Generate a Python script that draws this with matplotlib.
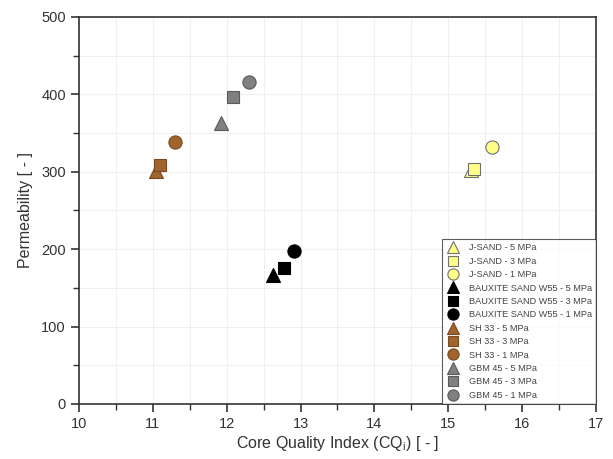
import matplotlib
matplotlib.use("Agg")
import matplotlib.pyplot as plt
from matplotlib.ticker import MultipleLocator

plt.rcParams['font.family'] = ['Liberation Sans', 'DejaVu Sans']
plt.rcParams['mathtext.fontset'] = 'custom'
plt.rcParams['mathtext.rm'] = 'Liberation Sans'
plt.rcParams['mathtext.it'] = 'Liberation Sans:italic'

# data: (CQi, permeability) for 5, 3, 1 MPa
pressures = ['5 MPa', '3 MPa', '1 MPa']
markers = ['^', 's', 'o']

materials = ['J-SAND', 'BAUXITE SAND W55', 'SH 33', 'GBM 45']
colors = ['#FFFF88', '#000000', '#A0642D', '#808080']
edges = ['#707070', '#000000', '#7a4a20', '#5a5a5a']

jsand_x = [15.31, 15.35, 15.60]
jsand_y = [302, 303, 332]
bauxite_x = [12.63, 12.78, 12.91]
bauxite_y = [167, 175, 197]
sh33_x = [11.04, 11.10, 11.30]
sh33_y = [301, 309, 339]
gbm_x = [11.92, 12.09, 12.30]
gbm_y = [363, 397, 416]

xs = [jsand_x, bauxite_x, sh33_x, gbm_x]
ys = [jsand_y, bauxite_y, sh33_y, gbm_y]

fig = plt.figure(figsize=(6.13, 4.59), dpi=100)
ax = fig.add_axes([0.129, 0.12, 0.843, 0.843])

for name, c, ec, x, y in zip(materials, colors, edges, xs, ys):
    for p, m, xi, yi in zip(pressures, markers, x, y):
        ax.plot(xi, yi, linestyle='none', marker=m, markersize=9.5 if m != 's' else 9,
                markerfacecolor=c, markeredgecolor=ec, markeredgewidth=0.8,
                label=f'{name} - {p}', zorder=3)

ax.set_xlim(10, 17)
ax.set_ylim(0, 500)
ax.xaxis.set_major_locator(MultipleLocator(1))
ax.xaxis.set_minor_locator(MultipleLocator(0.5))
ax.yaxis.set_major_locator(MultipleLocator(100))
ax.yaxis.set_minor_locator(MultipleLocator(50))
ax.grid(True, which='both', color='#efefef', linewidth=0.8, zorder=0)
ax.set_axisbelow(True)

ax.tick_params(which='major', direction='out', length=6, width=1.2, color='#333333',
               labelsize=10.5, labelcolor='#333333', top=False, right=False)
ax.tick_params(which='minor', direction='out', length=4, width=1.0, color='#333333',
               top=False, right=False)
for s in ax.spines.values():
    s.set_color('#333333')
    s.set_linewidth(1.2)

ax.set_xlabel(r'Core Quality Index (CQ$_\mathrm{i}$) [ - ]', fontsize=11.5, color='#333333', labelpad=2)
ax.set_ylabel('Permeability [ - ]', fontsize=11.5, color='#333333', labelpad=6)

# legend ordered by material then pressure
leg = ax.legend(loc='lower right', bbox_to_anchor=(1.0, 0.0), borderaxespad=0,
                fontsize=6.6, frameon=True, fancybox=False, edgecolor='#333333',
                handletextpad=1.0, labelspacing=0.48, borderpad=0.45, markerscale=0.85,
                handlelength=1.4)
leg.get_frame().set_linewidth(0.8)
for t in leg.get_texts():
    t.set_color('#444444')

fig.savefig('out.png', dpi=100)
